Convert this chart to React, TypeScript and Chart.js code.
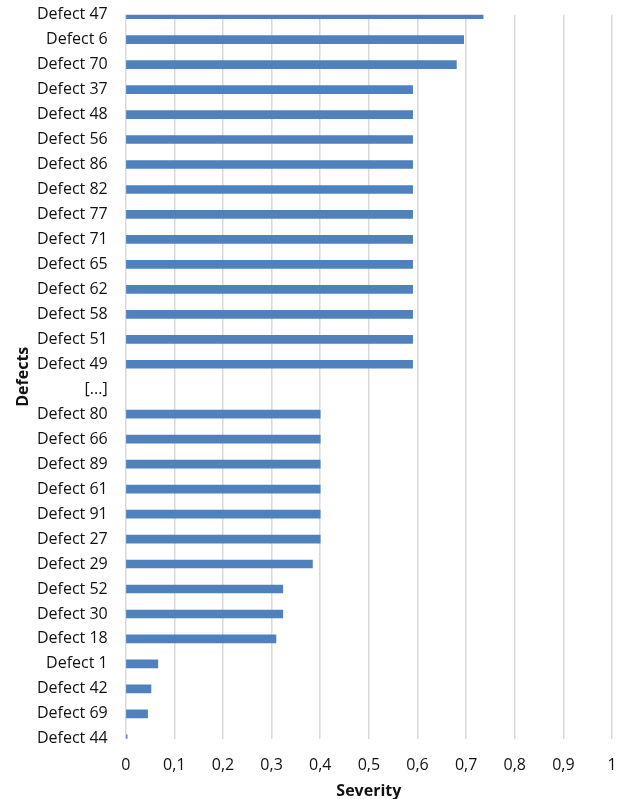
import React, { useEffect, useRef } from "react";
import { Chart, registerables } from "chart.js";

Chart.register(...registerables);

const categories = [
  "Defect 47", "Defect 6", "Defect 70", "Defect 37", "Defect 48", "Defect 56", "Defect 86",
  "Defect 82", "Defect 77", "Defect 71", "Defect 65", "Defect 62", "Defect 58", "Defect 51",
  "Defect 49", "[...]", "Defect 80", "Defect 66", "Defect 89", "Defect 61", "Defect 91",
  "Defect 27", "Defect 29", "Defect 52", "Defect 30", "Defect 18", "Defect 1", "Defect 42",
  "Defect 69", "Defect 44",
];

const severity: (number | null)[] = [
  0.735, 0.695, 0.68, 0.59, 0.59, 0.59, 0.59,
  0.59, 0.59, 0.59, 0.59, 0.59, 0.59, 0.59,
  0.59, null, 0.4, 0.4, 0.4, 0.4, 0.4,
  0.4, 0.384, 0.323, 0.323, 0.309, 0.066, 0.052,
  0.045, 0.003,
];

const xTickMin = 0;
const xTickMax = 1;
const xTickStep = 0.1;

const FONT = "'Open Sans', 'Liberation Sans', sans-serif";
const TEXT = "#111111";

export default function App() {
  const ref = useRef<HTMLCanvasElement | null>(null);

  useEffect(() => {
    if (!ref.current) return;
    const chart = new Chart(ref.current, {
      type: "bar",
      data: {
        labels: categories,
        datasets: [
          {
            data: severity,
            backgroundColor: "#4F81BD",
            borderColor: "#4F81BD",
            borderWidth: 0,
            barThickness: 8,
            clip: 0,
          } as any,
        ],
      },
      options: {
        indexAxis: "y",
        animation: false,
        responsive: false,
        maintainAspectRatio: false,
        layout: { padding: { top: 14.7, right: 11, bottom: 0, left: 0 } },
        plugins: {
          legend: { display: false },
          tooltip: { enabled: false },
          title: { display: false },
        },
        scales: {
          x: {
            type: "linear",
            min: xTickMin,
            max: xTickMax,
            ticks: {
              stepSize: xTickStep,
              color: TEXT,
              font: { family: FONT, size: 16 },
              padding: 0,
              maxRotation: 0,
              callback: (v: any) => String(Math.round(Number(v) * 10) / 10).replace(".", ","),
            },
            grid: {
              color: "#D9D9D9",
              lineWidth: 1.5,
              drawTicks: true,
              tickLength: 17,
              tickColor: "rgba(0,0,0,0)",
            },
            border: { display: false },
            title: {
              display: true,
              text: "Severity",
              color: TEXT,
              font: { family: FONT, size: 16, weight: "bold" },
              padding: { top: 2, bottom: -2 },
            },
            afterFit: (s: any) => {
              s.height = 60.2;
            },
          },
          y: {
            type: "category",
            offset: false,
            ticks: {
              color: TEXT,
              font: { family: FONT, size: 16 },
              padding: 0,
              autoSkip: false,
            },
            grid: {
              display: true,
              color: "rgba(0,0,0,0)",
              drawOnChartArea: false,
              drawTicks: true,
              tickLength: 18,
              tickColor: "rgba(0,0,0,0)",
            },
            border: { display: false },
            title: {
              display: true,
              text: "Defects",
              color: TEXT,
              font: { family: FONT, size: 16, weight: "bold" },
              padding: { top: 14, bottom: 0 },
            },
            afterFit: (s: any) => {
              s.width = 125.7;
            },
          },
        },
      } as any,
    });
    return () => chart.destroy();
  }, []);

  return (
    <div style={{ position: "absolute", left: 0, top: 0, width: 623, height: 799, background: "#fff" }}>
      <canvas ref={ref} width={623} height={799} style={{ display: "block" }} />
    </div>
  );
}
